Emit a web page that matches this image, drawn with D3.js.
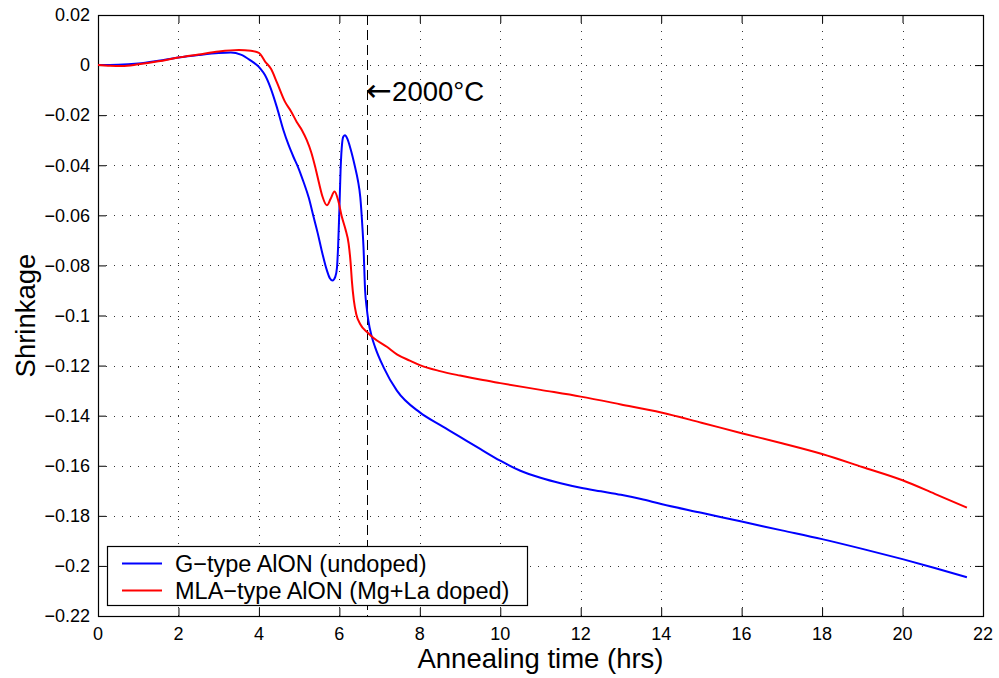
<!DOCTYPE html>
<html>
<head>
<meta charset="utf-8">
<script src="https://cdn.jsdelivr.net/npm/d3@7"></script>
<style>
  html, body { margin: 0; padding: 0; background: #fff; }
  svg { display: block; font-family: "Liberation Sans", Arial, Helvetica, sans-serif; }
</style>
</head>
<body>
<svg id="chart" width="999" height="678"></svg>
<script>
// ---- Data ----
const blueT = [0,0.5,1.0,1.5,2.0,2.5,3.0,3.3,3.55,3.78,4.03,4.15,4.28,4.45,4.61,4.74,4.86,4.98,5.11,5.24,5.36,5.46,5.56,5.69,5.76,5.83,5.9,5.94,5.97,6.0,6.03,6.07,6.1,6.14,6.2,6.27,6.39,6.46,6.52,6.57,6.6,6.64,6.68,6.72,6.81,6.89,7.1,7.43,8.0,8.5,9.0,9.5,10.0,10.5,11.0,11.5,12.0,12.5,13.0,13.5,14.0,15.0,16.0,17.0,18.0,19.0,20.0,20.8,21.6];
const blueV = [0,0.0001,0.0006,0.0017,0.003,0.004,0.0048,0.005,0.0042,0.002,-0.0013,-0.004,-0.0087,-0.017,-0.026,-0.032,-0.0367,-0.041,-0.0467,-0.053,-0.0607,-0.067,-0.074,-0.082,-0.085,-0.086,-0.0845,-0.081,-0.072,-0.058,-0.042,-0.031,-0.0285,-0.028,-0.0295,-0.033,-0.0407,-0.046,-0.0527,-0.064,-0.0727,-0.09,-0.097,-0.102,-0.1087,-0.1127,-0.1207,-0.13,-0.1387,-0.1437,-0.1485,-0.1533,-0.158,-0.1620,-0.1648,-0.1670,-0.1688,-0.1702,-0.1716,-0.1733,-0.1753,-0.1788,-0.1823,-0.1858,-0.1893,-0.1932,-0.1973,-0.2008,-0.2045];

const redT = [0,0.3,0.6,1.0,1.5,2.0,2.5,3.0,3.5,3.8,4.0,4.15,4.3,4.45,4.65,4.8,4.94,5.07,5.19,5.3,5.4,5.5,5.58,5.69,5.78,5.88,5.97,6.06,6.15,6.23,6.28,6.31,6.36,6.42,6.52,6.7,6.85,7.18,7.43,7.75,8.0,8.5,9.0,9.5,10.0,11.0,12.0,13.0,14.0,15.0,16.0,17.0,18.0,19.0,20.0,20.8,21.6];
const redV = [0,-0.0003,-0.0004,0.0003,0.0015,0.003,0.0042,0.0054,0.006,0.0057,0.0049,0.0015,-0.0015,-0.007,-0.0147,-0.0185,-0.0227,-0.026,-0.030,-0.0348,-0.0407,-0.0475,-0.0525,-0.056,-0.0535,-0.0505,-0.054,-0.0605,-0.0655,-0.0713,-0.079,-0.086,-0.094,-0.0995,-0.1035,-0.1068,-0.1090,-0.1125,-0.1155,-0.1180,-0.1198,-0.1222,-0.124,-0.1256,-0.127,-0.1297,-0.1324,-0.1355,-0.1387,-0.1428,-0.147,-0.151,-0.1553,-0.1605,-0.1658,-0.1712,-0.1767];

const seriesNames = ["G\u2212type AlON (undoped)", "MLA\u2212type AlON (Mg+La doped)"];
const seriesColors = ["#0000ff", "#ff0000"];

const xTicks = [0,2,4,6,8,10,12,14,16,18,20,22];
const xTickLabels = ["0","2","4","6","8","10","12","14","16","18","20","22"];
const yTicks = [0.02,0,-0.02,-0.04,-0.06,-0.08,-0.1,-0.12,-0.14,-0.16,-0.18,-0.2,-0.22];
const yTickLabels = ["0.02","0","\u22120.02","\u22120.04","\u22120.06","\u22120.08","\u22120.1","\u22120.12","\u22120.14","\u22120.16","\u22120.18","\u22120.2","\u22120.22"];

const markerT = 6.69;
const markerArrow = "\u2190";
const markerLabel = "2000\u00B0C";
const markerLabelV = -0.0143;
const xTitle = "Annealing time (hrs)";
const yTitle = "Shrinkage";

// ---- Layout ----
const L = 98, R = 983, T = 15, B = 616;
const svg = d3.select("#chart");
const x = d3.scaleLinear().domain([0, 22]).range([L, R]);
const y = d3.scaleLinear().domain([-0.22, 0.02]).range([B, T]);

// grid
const grid = svg.append("g").attr("stroke", "#333").attr("stroke-width", 1).attr("stroke-dasharray", "1,7");
grid.selectAll("line.vx").data(xTicks.filter(t => t > 0 && t < 22)).join("line")
  .attr("x1", d => Math.round(x(d)) + 0.5).attr("x2", d => Math.round(x(d)) + 0.5)
  .attr("y1", T).attr("y2", B);
grid.selectAll("line.hy").data(yTicks.filter(t => t < 0.019 && t > -0.219)).join("line")
  .attr("y1", d => Math.round(y(d)) + 0.5).attr("y2", d => Math.round(y(d)) + 0.5)
  .attr("x1", L).attr("x2", R);

// axes (inside ticks on all sides)
const tickLen = 8;
const axB = svg.append("g").attr("transform", `translate(0,${B})`)
  .call(d3.axisBottom(x).tickValues(xTicks).tickSize(-tickLen).tickFormat(""));
const axT = svg.append("g").attr("transform", `translate(0,${T})`)
  .call(d3.axisTop(x).tickValues(xTicks).tickSize(-tickLen).tickFormat(""));
const axLft = svg.append("g").attr("transform", `translate(${L},0)`)
  .call(d3.axisLeft(y).tickValues(yTicks).tickSize(-tickLen).tickFormat(""));
const axRgt = svg.append("g").attr("transform", `translate(${R},0)`)
  .call(d3.axisRight(y).tickValues(yTicks).tickSize(-tickLen).tickFormat(""));
[axB, axT, axLft, axRgt].forEach(a => {
  a.select(".domain").remove();
  a.selectAll(".tick line").attr("stroke", "#000").attr("stroke-width", 1);
});
svg.append("rect").attr("x", L + 0.5).attr("y", T + 0.5).attr("width", R - L).attr("height", B - T)
  .attr("fill", "none").attr("stroke", "#000").attr("stroke-width", 1.2);

// tick labels
svg.append("g").selectAll("text").data(xTicks).join("text")
  .attr("x", d => x(d)).attr("y", 640)
  .attr("text-anchor", "middle").attr("font-size", 18).attr("fill", "#000")
  .text((d, i) => xTickLabels[i]);
svg.append("g").selectAll("text").data(yTicks).join("text")
  .attr("x", 90).attr("y", d => y(d)).attr("dy", "0.35em")
  .attr("text-anchor", "end").attr("font-size", 18).attr("fill", "#000")
  .text((d, i) => yTickLabels[i]);

// axis titles
svg.append("text").attr("x", (L + R) / 2).attr("y", 668).attr("text-anchor", "middle")
  .attr("font-size", 27.5).attr("fill", "#000").text(xTitle);
svg.append("text").attr("transform", `translate(35,${(T + B) / 2}) rotate(-90)`).attr("text-anchor", "middle")
  .attr("font-size", 27.5).attr("fill", "#000").text(yTitle);

// vertical dashed marker
svg.append("line").attr("x1", Math.round(x(markerT)) + 0.5).attr("x2", Math.round(x(markerT)) + 0.5)
  .attr("y1", T).attr("y2", B).attr("stroke", "#000").attr("stroke-width", 1).attr("stroke-dasharray", "10,5");
const ann = svg.append("text").attr("x", x(markerT) - 1).attr("y", y(markerLabelV))
  .attr("font-size", 27.5).attr("fill", "#000");
ann.append("tspan").attr("font-family", "DejaVu Sans").attr("font-size", 31).text(markerArrow);
ann.append("tspan").text(markerLabel);

// curves
const line = d3.line().x(d => x(d[0])).y(d => y(d[1])).curve(d3.curveMonotoneX);
const series = [d3.zip(blueT, blueV), d3.zip(redT, redV)];
svg.append("g").selectAll("path").data(series).join("path")
  .attr("d", line).attr("fill", "none")
  .attr("stroke", (d, i) => seriesColors[i]).attr("stroke-width", 2);

// legend
const lg = svg.append("g");
lg.append("rect").attr("x", 107.5).attr("y", 546.5).attr("width", 420).attr("height", 59)
  .attr("fill", "#fff").attr("stroke", "#000").attr("stroke-width", 1.2);
const rows = [563.5, 590.5];
seriesNames.forEach((name, i) => {
  lg.append("line").attr("x1", 122).attr("x2", 162).attr("y1", rows[i]).attr("y2", rows[i])
    .attr("stroke", seriesColors[i]).attr("stroke-width", 2);
  lg.append("text").attr("x", 175).attr("y", rows[i] + 8.5).attr("font-size", 23.5).attr("fill", "#000").text(name);
});
</script>
</body>
</html>
